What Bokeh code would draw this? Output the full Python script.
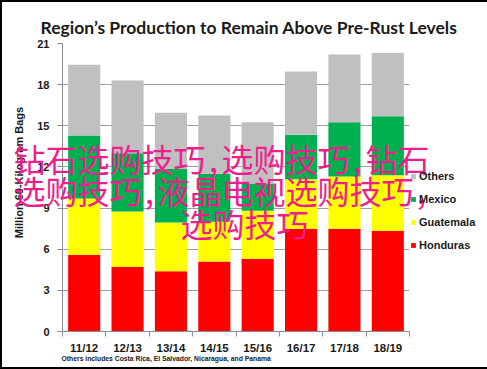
import math
from bokeh.plotting import figure
from bokeh.models import ColumnDataSource, FixedTicker, Legend, LegendItem
from bokeh.core.properties import value
from bokeh.embed import file_html
from bokeh.resources import INLINE

# ---- data (million 60-kg bags) ----
seasons = ["11/12", "12/13", "13/14", "14/15", "15/16", "16/17", "17/18", "18/19"]
honduras = [5.6, 4.7, 4.4, 5.1, 5.3, 7.5, 7.5, 7.35]
guatemala = [4.1, 4.05, 3.55, 2.9, 3.5, 3.6, 3.8, 4.05]
mexico = [4.6, 4.25, 3.9, 3.5, 2.0, 3.25, 3.95, 4.3]
others = [5.15, 5.3, 4.1, 4.25, 4.45, 4.6, 4.95, 4.6]
series_names = ["Honduras", "Guatemala", "Mexico", "Others"]
series_colors = ["#ff0000", "#ffff00", "#00b050", "#c0c0c0"]
y_ticks = [0, 3, 6, 9, 12, 15, 18, 21]

title_text = "Region\u2019s Production to Remain Above Pre-Rust Levels"
y_label_text = "Million 60-Kilogram Bags"
footnote_text = "Others includes Costa Rica, El Salvador, Nicaragua, and Panama"
watermark_lines = ["钻石选购技巧,选购技巧,钻石", "选购技巧,液晶电视选购技巧,", "选购技巧"]

# ---- layout (pixels) ----
FL, FT, FW, FH = 62, 43, 347, 288          # plot frame
X0, X1, Y0, Y1 = -0.5, 7.5, 0, 21          # data ranges


def dx(px):  # page pixel -> data x
    return X0 + (px - FL) * (X1 - X0) / FW


def dy(py):  # page pixel -> data y
    return Y0 + (FT + FH - py) * (Y1 - Y0) / FH


xs = list(range(len(seasons)))
source = ColumnDataSource(dict(x=xs, Honduras=honduras, Guatemala=guatemala,
                               Mexico=mexico, Others=others))

p = figure(frame_width=FW, frame_height=FH, x_range=(X0, X1), y_range=(Y0, Y1),
           output_backend="svg", toolbar_location=None,
           min_border_left=FL, min_border_right=487 - FL - FW, min_border_top=FT,
           min_border_bottom=369 - FT - FH)
p.outline_line_color = None
p.background_fill_color = "white"
p.border_fill_color = None

rs = p.vbar_stack(series_names, x="x", width=0.74, color=series_colors,
                  source=source, line_color=None)

axis_gray = "#8c8c8c"
# x axis
p.xaxis.ticker = FixedTicker(ticks=xs, minor_ticks=[i - 0.5 for i in range(len(seasons) + 1)])
p.xaxis.major_label_overrides = {i: s for i, s in enumerate(seasons)}
p.xaxis.major_tick_out = 0
p.xaxis.major_tick_in = 0
p.xaxis.minor_tick_out = 5
p.xaxis.minor_tick_in = 0
p.xaxis.axis_line_color = axis_gray
p.xaxis.minor_tick_line_color = axis_gray
p.xaxis.major_label_standoff = 5
p.xaxis.major_label_text_font = "Liberation Sans"
p.xaxis.major_label_text_font_style = "bold"
p.xaxis.major_label_text_font_size = "11.5px"
p.xaxis.major_label_text_color = "#1a1a1a"
p.xgrid.visible = False

# y axis
p.yaxis.ticker = FixedTicker(ticks=y_ticks)
p.yaxis.major_tick_out = 5
p.yaxis.major_tick_in = 0
p.yaxis.minor_tick_out = 0
p.yaxis.minor_tick_in = 0
p.yaxis.axis_line_color = axis_gray
p.yaxis.major_tick_line_color = axis_gray
p.yaxis.major_label_standoff = 8
p.yaxis.major_label_text_font = "Liberation Sans"
p.yaxis.major_label_text_font_style = "bold"
p.yaxis.major_label_text_font_size = "11px"
p.yaxis.major_label_text_color = "#1a1a1a"
p.ygrid.ticker = FixedTicker(ticks=y_ticks)
p.ygrid.grid_line_color = "#a0a0a0"

# legend (top to bottom: Others, Mexico, Guatemala, Honduras)
items = [LegendItem(label=series_names[i], renderers=[rs[i]]) for i in (3, 2, 1, 0)]
legend = Legend(items=items, location=(1, 77), glyph_width=6, glyph_height=6,
                label_standoff=3, padding=3, margin=0, spacing=4, label_height=19,
                border_line_color=None, background_fill_alpha=0,
                label_text_font="Liberation Sans", label_text_font_style="bold",
                label_text_font_size="11px", label_text_color="#1a1a1a")
p.add_layout(legend, "right")
p.styles = {"box-shadow": "inset 0 0 0 2px black"}

# ---- texts outside the frame: text glyphs on the overlay level ----
p.text(x=[dx(248.5)], y=[dy(27)], text=[title_text], text_align="center",
       text_baseline="alphabetic", text_font=value("Lato"), text_font_style="bold",
       text_font_size="17.5px", text_color="#1a1a1a", level="overlay")
p.text(x=[dx(18.5)], y=[dy(172)], text=[y_label_text], angle=math.pi / 2,
       text_align="center", text_baseline="middle", text_font=value("Liberation Sans"),
       text_font_style="bold", text_font_size="11px", text_color="#1a1a1a",
       level="overlay")
p.text(x=[dx(61)], y=[dy(358)], text=[footnote_text], text_align="left",
       text_baseline="middle", text_font=value("Liberation Sans"), text_font_style="bold",
       text_font_size="6.8px", text_color="#1a1a1a", level="overlay")
p.text(x=[dx(13), dx(13), dx(180)], y=[dy(157), dy(189), dy(222)], text=watermark_lines,
       text_align="left", text_baseline="middle",
       text_font=value("Noto Sans Mono CJK SC"), text_font_size="32px",
       text_color="#f01e8c", level="overlay")

open("out.html", "w").write(file_html(p, INLINE))
